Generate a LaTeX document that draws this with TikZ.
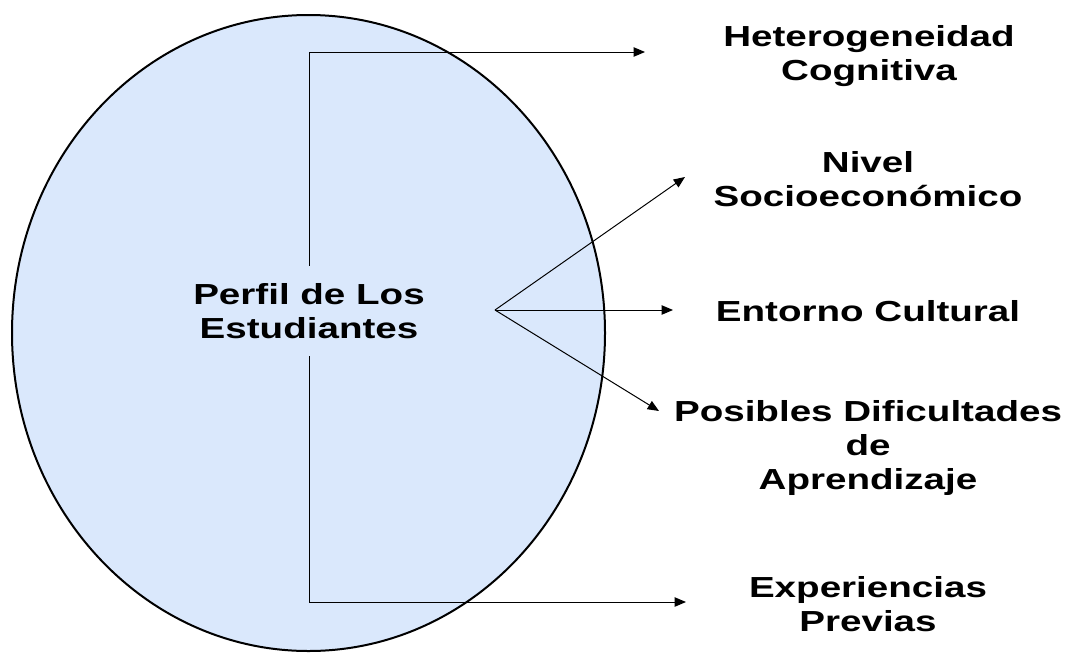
\documentclass[tikz,border=0pt]{standalone}
\usepackage{fontspec}
\setmainfont{Liberation Sans}[FakeStretch=1.33]
\usetikzlibrary{arrows.meta,shapes.geometric}
\definecolor{ellfill}{HTML}{DAE8FC}
\begin{document}
\begin{tikzpicture}[x=0.75pt,y=-0.75pt,
  lbl/.style={font=\fontsize{21.75}{25.5}\selectfont\bfseries, align=center, inner sep=0pt},
  conn/.style={-{Triangle[length=8.5pt,width=7pt]}, line width=0.75pt}]
\useasboundingbox (0,0) rectangle (1066,653);
\node (ell) [ellipse, draw, line width=1.5pt, fill=ellfill, inner sep=0pt,
  minimum width=444.75pt, minimum height=477pt] at (308.5,333) {};
\node (perfil) [lbl, minimum height=67.5pt] at (309,311) {Perfil de Los\\Estudiantes};
\node (het) [lbl] at (869,56) {Heterogeneidad\\Cognitiva};
\node (niv) [lbl] at (868,179) {Nivel\\Socioeconómico};
\node (ent) [lbl] at (868,311) {Entorno Cultural};
\node (pos) [lbl] at (868,448) {Posibles Dificultades\\de\\Aprendizaje};
\node (exp) [lbl] at (868,604) {Experiencias\\Previas};
\coordinate (fan) at (495,310);
\coordinate (t1) at (645,52);
\coordinate (t2) at (685,177);
\coordinate (t3) at (673,310);
\coordinate (t4) at (659,411);
\coordinate (t5) at (686,602);
\draw[conn] (perfil.north) |- (t1);
\draw[conn] (perfil.south) |- (t5);
\draw[conn] (fan) -- (t2);
\draw[conn] (fan) -- (t3);
\draw[conn] (fan) -- (t4);
\end{tikzpicture}
\end{document}
